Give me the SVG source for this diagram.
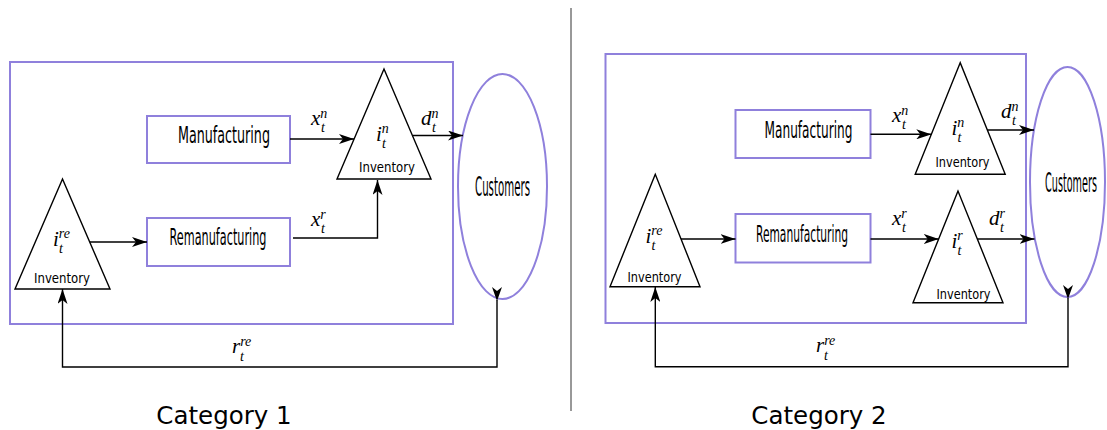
<svg xmlns="http://www.w3.org/2000/svg" width="1107" height="430" viewBox="0 0 1107 430">
<defs>
<marker id="ah" viewBox="0 0 15 10" refX="15" refY="5" markerWidth="15" markerHeight="10" markerUnits="userSpaceOnUse" orient="auto">
<path d="M0,0 L15,5 L0,10 L4,5 Z" fill="#000"/>
</marker>
</defs>
<style>
.pb{fill:#fff;stroke:#8f80dc;stroke-width:2}
.pf{fill:none;stroke:#8f80dc;stroke-width:2}
.tri{fill:#fff;stroke:#000;stroke-width:1.4}
.ar{fill:none;stroke:#000;stroke-width:1.4;marker-end:url(#ah)}
.lbl{font-family:"DejaVu Sans Condensed","DejaVu Sans",sans-serif;font-size:23px;text-anchor:middle;fill:#000}
.inv{font-family:"DejaVu Sans Condensed","DejaVu Sans",sans-serif;font-size:14px;text-anchor:middle;fill:#000}
.cus{font-family:"DejaVu Sans Condensed","DejaVu Sans",sans-serif;font-size:26px;text-anchor:middle;fill:#000}
.m{font-family:"Liberation Serif","Times New Roman",serif;font-style:italic;font-size:21px;fill:#000}
.s{font-size:14px}
.cat{font-family:"DejaVu Sans",sans-serif;font-size:24.5px;text-anchor:middle;fill:#000}
</style>
<rect width="1107" height="430" fill="#fff"/>

<!-- divider -->
<line x1="571" y1="8" x2="571" y2="411" stroke="#333" stroke-width="1"/>

<!-- ===== Category 1 ===== -->
<g id="frame1"><rect class="pf" x="10" y="62" width="443" height="262"/></g>

<g id="manuf1">
<rect class="pb" x="147" y="116" width="143" height="47"/>
<text class="lbl" x="224" y="143" textLength="92" lengthAdjust="spacingAndGlyphs">Manufacturing</text>
</g>
<g id="reman1">
<rect class="pb" x="147" y="218" width="143" height="48"/>
<text class="lbl" x="218" y="245" textLength="97" lengthAdjust="spacingAndGlyphs">Remanufacturing</text>
</g>
<g id="invre1">
<polygon class="tri" points="62.5,179 15,289 110,289"/>
<text class="m" x="53" y="246">i<tspan class="s" dy="-8">re</tspan><tspan class="s" x="59" dy="15">t</tspan></text>
<text class="inv" x="62" y="283" textLength="56" lengthAdjust="spacingAndGlyphs">Inventory</text>
</g>
<g id="invn1">
<polygon class="tri" points="384,69 337,179 431,179"/>
<text class="m" x="376" y="141">i<tspan class="s" dy="-8">n</tspan><tspan class="s" x="382" dy="15">t</tspan></text>
<text class="inv" x="387" y="171.5" textLength="56" lengthAdjust="spacingAndGlyphs">Inventory</text>
</g>
<g id="cust1">
<ellipse class="pb" cx="502.5" cy="186.5" rx="44.5" ry="112.5"/>
<text class="cus" x="502.5" y="196" textLength="55" lengthAdjust="spacingAndGlyphs">Customers</text>
</g>

<g id="connectors1">
<line class="ar" x1="290" y1="139" x2="354" y2="139"/>
<line class="ar" x1="412.6" y1="135.5" x2="463" y2="135.5"/>
<polyline class="ar" points="293,238 377.5,238 377.5,180"/>
<line class="ar" x1="90" y1="242" x2="147" y2="242"/>
<polyline class="ar" points="497,300 497,367 62.5,367 62.5,289"/>
<path d="M497,301 L492,287 L497,291 L502,287 Z" fill="#000"/>
</g>
<g id="labels1">
<text class="m" x="311" y="125">x<tspan class="s" dy="-7">n</tspan><tspan class="s" x="321" dy="14">t</tspan></text>
<text class="m" x="311" y="226">x<tspan class="s" dy="-7">r</tspan><tspan class="s" x="321" dy="14">t</tspan></text>
<text class="m" x="421" y="125">d<tspan class="s" dy="-7">n</tspan><tspan class="s" x="432" dy="14">t</tspan></text>
<text class="m" x="232" y="353">r<tspan class="s" dy="-7">re</tspan><tspan class="s" x="240" dy="15">t</tspan></text>
</g>

<!-- ===== Category 2 ===== -->
<g id="frame2"><rect class="pf" x="605.5" y="54" width="420.5" height="269"/></g>

<g id="manuf2">
<rect class="pb" x="735.5" y="110" width="135" height="48"/>
<text class="lbl" x="808.5" y="138" textLength="88" lengthAdjust="spacingAndGlyphs">Manufacturing</text>
</g>
<g id="reman2">
<rect class="pb" x="735.5" y="214" width="135" height="48.5"/>
<text class="lbl" x="802" y="242" textLength="92" lengthAdjust="spacingAndGlyphs">Remanufacturing</text>
</g>
<g id="invre2">
<polygon class="tri" points="655.3,174.3 610,286.7 700,286.7"/>
<text class="m" x="645.5" y="243">i<tspan class="s" dy="-8">re</tspan><tspan class="s" x="651.5" dy="15">t</tspan></text>
<text class="inv" x="654.5" y="281.5" textLength="54" lengthAdjust="spacingAndGlyphs">Inventory</text>
</g>
<g id="invn2">
<polygon class="tri" points="960.2,62.7 915.2,174.3 1005.2,174.3"/>
<text class="m" x="951.5" y="135">i<tspan class="s" dy="-8">n</tspan><tspan class="s" x="957.5" dy="15">t</tspan></text>
<text class="inv" x="962.5" y="166.5" textLength="54" lengthAdjust="spacingAndGlyphs">Inventory</text>
</g>
<g id="invr2">
<polygon class="tri" points="958,191 913,302.7 1003,302.7"/>
<text class="m" x="951.5" y="248">i<tspan class="s" dy="-8">r</tspan><tspan class="s" x="957.5" dy="15">t</tspan></text>
<text class="inv" x="963.5" y="299" textLength="54" lengthAdjust="spacingAndGlyphs">Inventory</text>
</g>
<g id="cust2">
<ellipse class="pb" cx="1067.5" cy="182" rx="37.5" ry="115"/>
<text class="cus" x="1071" y="192" textLength="52" lengthAdjust="spacingAndGlyphs">Customers</text>
</g>

<g id="connectors2">
<line class="ar" x1="870.5" y1="134.3" x2="931.3" y2="134.3"/>
<line class="ar" x1="987.3" y1="130" x2="1034" y2="130"/>
<line class="ar" x1="870.5" y1="239" x2="938.7" y2="239"/>
<line class="ar" x1="977.3" y1="239" x2="1034.5" y2="239"/>
<line class="ar" x1="681" y1="239" x2="735.5" y2="239"/>
<polyline class="ar" points="1068,298 1068,366.7 655.3,366.7 655.3,287"/>
<path d="M1068,299 L1063,285 L1068,289 L1073,285 Z" fill="#000"/>
</g>
<g id="labels2">
<text class="m" x="892" y="122">x<tspan class="s" dy="-7">n</tspan><tspan class="s" x="902" dy="14">t</tspan></text>
<text class="m" x="892" y="225">x<tspan class="s" dy="-7">r</tspan><tspan class="s" x="902" dy="14">t</tspan></text>
<text class="m" x="1001" y="118">d<tspan class="s" dy="-7">n</tspan><tspan class="s" x="1012" dy="14">t</tspan></text>
<text class="m" x="989" y="225">d<tspan class="s" dy="-7">r</tspan><tspan class="s" x="1000" dy="14">t</tspan></text>
<text class="m" x="816" y="352">r<tspan class="s" dy="-7">re</tspan><tspan class="s" x="824" dy="15">t</tspan></text>
</g>

<text class="cat" x="224" y="424">Category 1</text>
<text class="cat" x="819" y="424">Category 2</text>
</svg>
